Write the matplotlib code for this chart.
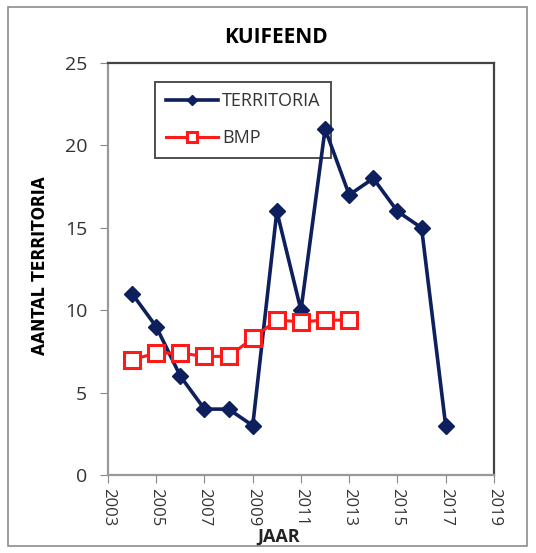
import matplotlib
matplotlib.use("Agg")
import matplotlib.pyplot as plt
from matplotlib.patches import Rectangle

# data
years_terr = [2004, 2005, 2006, 2007, 2008, 2009, 2010, 2011, 2012, 2013, 2014, 2015, 2016, 2017]
territoria = [11, 9, 6, 4, 4, 3, 16, 10, 21, 17, 18, 16, 15, 3]

years_bmp = [2004, 2005, 2006, 2007, 2008, 2009, 2010, 2011, 2012, 2013]
bmp = [7.0, 7.4, 7.4, 7.2, 7.2, 8.3, 9.4, 9.3, 9.4, 9.4]

x_ticks = list(range(2003, 2020, 2))
y_ticks = [0, 5, 10, 15, 20, 25]

plt.rcParams['font.family'] = ['Open Sans', 'DejaVu Sans']

fig = plt.figure(figsize=(5.36, 5.53), dpi=100)
ax = fig.add_axes([0.2015, 0.141, 0.72, 0.745])

# chart area border (excel style)
fig.patches.append(Rectangle((8 / 536, 7 / 553), 519 / 536, 539 / 553, transform=fig.transFigure,
                             fill=False, edgecolor='#8c8c8c', linewidth=1.2))

ax.plot(years_terr, territoria, color='#0d1f5c', linewidth=2.6, marker='D', markersize=8,
        markerfacecolor='#0d1f5c', markeredgecolor='#0d1f5c', label='TERRITORIA', zorder=5)
ax.plot(years_bmp, bmp, color='#ff1a1a', linewidth=2.2, marker='s', markersize=12,
        markerfacecolor='white', markeredgecolor='#ff1a1a', markeredgewidth=2.2, label='BMP', zorder=6)

ax.set_xlim(2003, 2019)
ax.set_ylim(0, 25)
ax.set_xticks(x_ticks)
ax.set_xticklabels([str(t) for t in x_ticks], rotation=270, fontsize=12, color='#333333')
ax.set_yticks(y_ticks)
ax.set_yticklabels([str(t) for t in y_ticks], fontsize=14, color='#333333')
ax.tick_params(axis='both', direction='out', length=6, color='#888888')
ax.tick_params(axis='x', pad=3)
ax.tick_params(axis='y', pad=9)

for side in ['left', 'bottom']:
    ax.spines[side].set_color('#999999')
    ax.spines[side].set_linewidth(1.6)
for side in ['top', 'right']:
    ax.spines[side].set_color('#444444')
    ax.spines[side].set_linewidth(1.6)

fig.text(0.515, 0.932, 'KUIFEEND', ha='center', va='center', fontsize=15, fontweight='bold')
fig.text(0.075, 0.52, 'AANTAL TERRITORIA', ha='center', va='center', rotation=90,
         fontsize=12.5, fontweight='bold', family='DejaVu Sans', fontstretch='condensed')
fig.text(0.52, 0.03, 'JAAR', ha='center', va='center', fontsize=13, fontweight='bold', color='#222222')

leg = ax.legend(loc='upper left', bbox_to_anchor=(0.122, 0.955), fontsize=13, frameon=True,
                fancybox=False, edgecolor='#222222', handlelength=2.9, handletextpad=0.2,
                borderpad=0.6, labelspacing=1.05, markerscale=0.6, borderaxespad=0)
leg.get_frame().set_linewidth(1.4)
leg.set_zorder(2)  # data lines are drawn over the legend box
for t in leg.get_texts():
    t.set_color('#333333')

fig.savefig('out.png', dpi=100)
